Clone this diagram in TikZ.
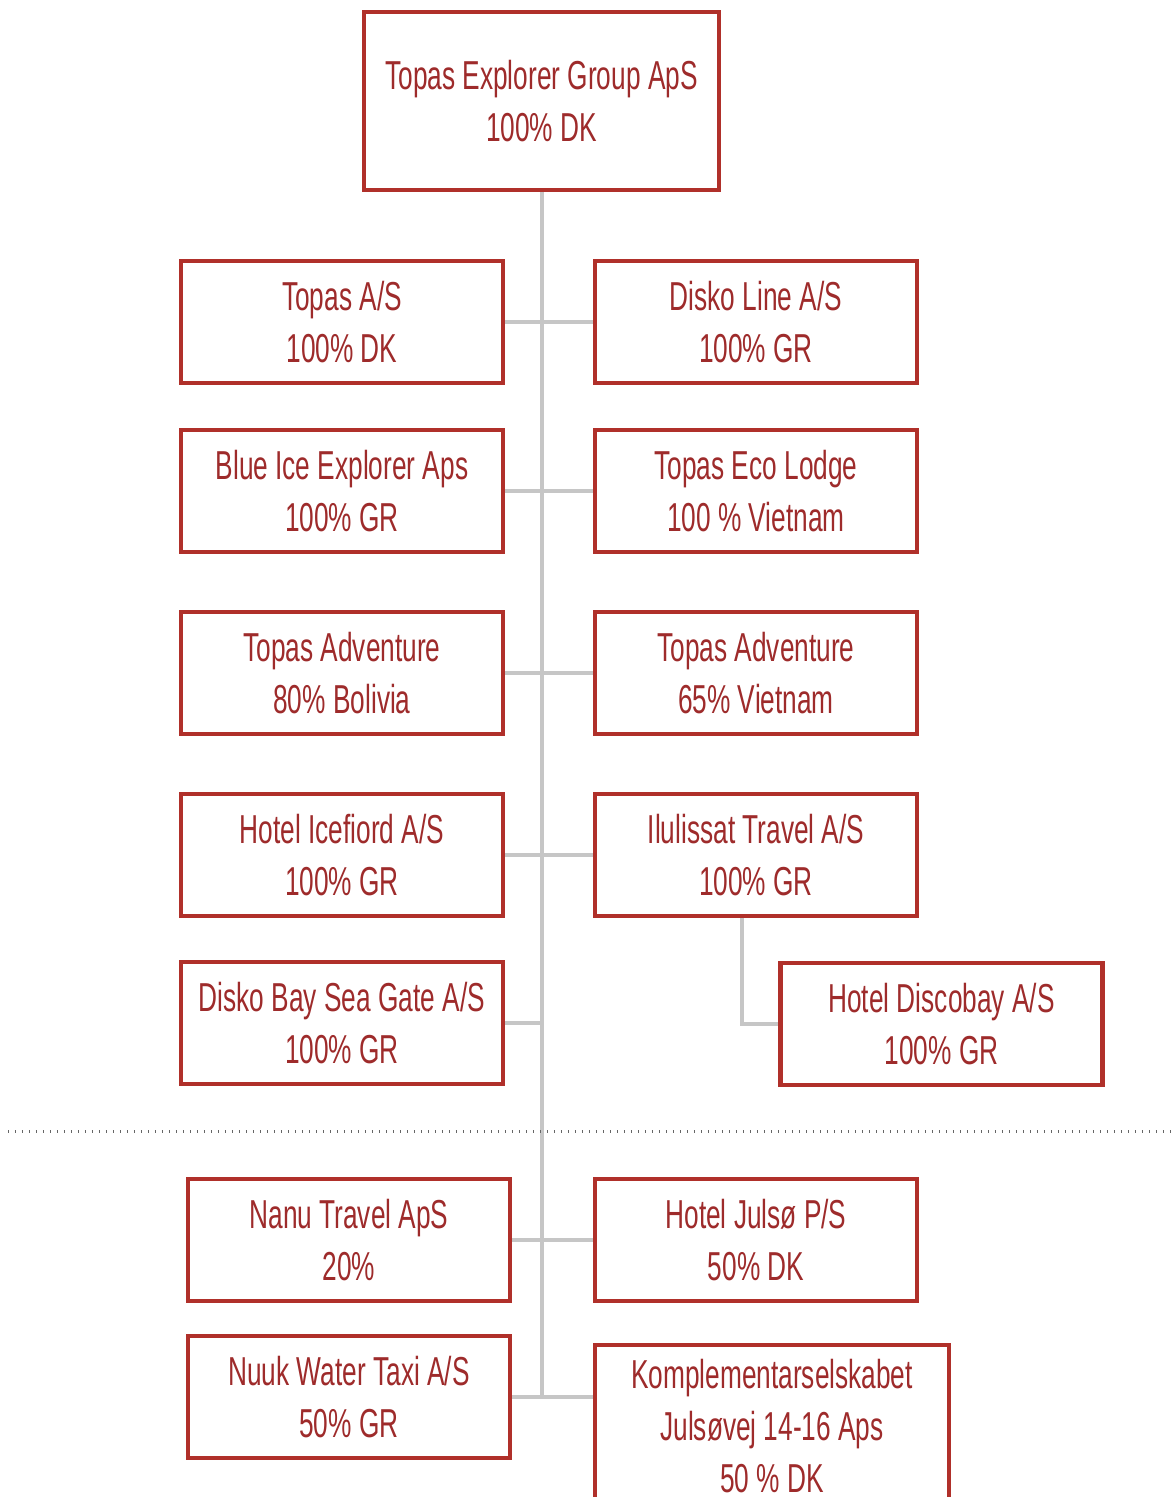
\documentclass[tikz,border=0pt]{standalone}
\usepackage{fontspec}
\setmainfont{Liberation Sans}[FakeStretch=0.65]
\usepackage{xcolor}
\definecolor{boxred}{HTML}{B0302A}
\definecolor{txtred}{HTML}{9E2B2B}
\definecolor{linegray}{HTML}{C6C6C6}

\begin{document}
\begin{tikzpicture}[x=0.1mm, y=-0.1mm,
    company/.style={draw=boxred, line width=0.45mm, fill=white, text=txtred,
      align=center, minimum width=32.2mm, minimum height=12.2mm, inner sep=0pt,
      font=\fontsize{11.5}{14.8}\selectfont},
    link/.style={draw=linegray, line width=0.4mm}]
  \useasboundingbox (0,0) rectangle (1174,1497);
  % Parent company
  \node[company, minimum width=35.5mm, minimum height=17.8mm] (group) at (541.5,101)
    {Topas Explorer Group ApS\\100\% DK};
  % Subsidiaries, left and right of the trunk
  \node[company] (topas)     at (342,322) {Topas A/S\\100\% DK};
  \node[company] (diskoline) at (756,322) {Disko Line A/S\\100\% GR};
  \node[company] (blueice)   at (342,491) {Blue Ice Explorer Aps\\100\% GR};
  \node[company] (ecolodge)  at (756,491) {Topas Eco Lodge\\100 \% Vietnam};
  \node[company] (bolivia)   at (342,673) {Topas Adventure\\80\% Bolivia};
  \node[company] (vietnam)   at (756,673) {Topas Adventure\\65\% Vietnam};
  \node[company] (icefiord)  at (342,855) {Hotel Icefiord A/S\\100\% GR};
  \node[company] (ilulissat) at (756,855) {Ilulissat Travel A/S\\100\% GR};
  \node[company] (seagate)   at (342,1023) {Disko Bay Sea Gate A/S\\100\% GR};
  \node[company] (discobay)  at (941.5,1024) {Hotel Discobay A/S\\100\% GR};
  % Associated companies below the dotted line
  \node[company] (nanu)      at (349,1240) {Nanu Travel ApS\\20\%};
  \node[company] (julso)     at (756,1240) {Hotel Julsø P/S\\50\% DK};
  \node[company] (nuuk)      at (349,1397) {Nuuk Water Taxi A/S\\50\% GR};
  \node[company, minimum width=35.4mm, minimum height=16.2mm] (komp) at (772,1426)
    {Komplementarselskabet\\Julsøvej 14-16 Aps\\50 \% DK};
  % Trunk and branches
  \draw[link] (group.south) -- (group.south |- nuuk.east);
  \draw[link] (topas.east) -- (diskoline.west);
  \draw[link] (blueice.east) -- (ecolodge.west);
  \draw[link] (bolivia.east) -- (vietnam.west);
  \draw[link] (icefiord.east) -- (ilulissat.west);
  \draw[link] (seagate.east) -- (seagate.east -| group.south);
  \draw[link] ([xshift=-1.4mm]ilulissat.south) |- (discobay.west);
  \draw[link] (nanu.east) -- (julso.west);
  \draw[link] (nuuk.east) -- (nuuk.east -| komp.west);
  % Separator
  \coordinate (sepL) at (8,1131);
  \coordinate (sepR) at (1174,1131);
  \draw[gray!80!black, line width=0.3mm, dash pattern=on 0.15mm off 0.55mm] (sepL) -- (sepR);
\end{tikzpicture}
\end{document}
